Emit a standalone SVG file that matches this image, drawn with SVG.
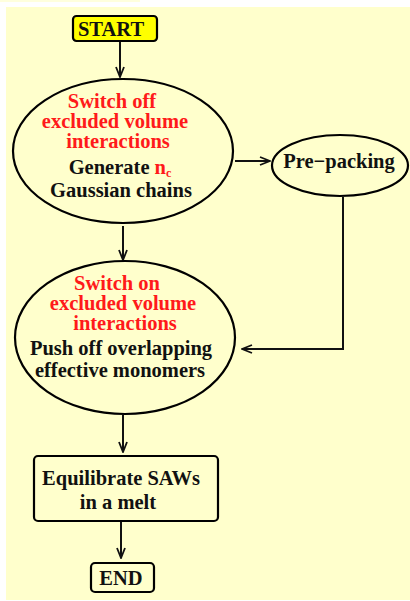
<svg xmlns="http://www.w3.org/2000/svg" width="410" height="601" viewBox="0 0 410 601">
<defs>
<style>
.node{fill:none;stroke:#000;stroke-width:2.2}
.t{font-family:"Liberation Serif","Times New Roman",serif;font-weight:bold;font-size:20.5px;text-anchor:middle;fill:#111}
.r{fill:#ff1a1a}
.conn{fill:none;stroke:#111;stroke-width:2}
</style>
<marker id="ah" viewBox="0 0 12 10" refX="11" refY="5" markerWidth="12" markerHeight="10" markerUnits="userSpaceOnUse" orient="auto">
<path d="M1,1 L11,5 L1,9" fill="none" stroke="#111" stroke-width="1.8"/>
</marker>
</defs>
<rect x="0" y="0" width="410" height="601" fill="#fff"/>
<rect x="0" y="0" width="140" height="2" fill="#ffffdd"/>
<rect x="6" y="7" width="404" height="593" fill="#ffffcc"/>

<g id="connectors">
<line class="conn" x1="120" y1="41" x2="120" y2="77" marker-end="url(#ah)"/>
<line class="conn" x1="235" y1="161" x2="270" y2="161" marker-end="url(#ah)"/>
<line class="conn" x1="123" y1="226" x2="123" y2="260" marker-end="url(#ah)"/>
<polyline class="conn" points="343,197 343,349 242,349" marker-end="url(#ah)"/>
<line class="conn" x1="123" y1="415" x2="123" y2="452" marker-end="url(#ah)"/>
<line class="conn" x1="121" y1="522" x2="121" y2="558" marker-end="url(#ah)"/>
</g>

<g id="start">
<rect x="73" y="16" width="84" height="25" rx="3.5" fill="#ffff00" stroke="#000" stroke-width="2.2"/>
<text class="t" x="111" y="36">START</text>
</g>

<g id="generate">
<ellipse class="node" cx="123" cy="151" rx="110" ry="72"/>
<text class="t r" x="112" y="108">Switch off</text>
<text class="t r" x="115" y="128">excluded volume</text>
<text class="t r" x="118" y="148">interactions</text>
<text class="t" x="120" y="174">Generate <tspan class="r">n<tspan font-size="12px" dy="2.5">c</tspan></tspan></text>
<text class="t" x="121" y="197">Gaussian chains</text>
</g>

<g id="prepacking">
<ellipse class="node" cx="340" cy="165.5" rx="68" ry="30.5"/>
<text class="t" x="339" y="168">Pre−packing</text>
</g>

<g id="pushoff">
<ellipse class="node" cx="125" cy="337.5" rx="110" ry="76.5"/>
<text class="t r" x="117" y="290">Switch on</text>
<text class="t r" x="123" y="310">excluded volume</text>
<text class="t r" x="125" y="330">interactions</text>
<text class="t" x="121" y="355">Push off overlapping</text>
<text class="t" x="120" y="377">effective monomers</text>
</g>

<g id="equilibrate">
<rect x="34" y="456" width="184" height="65" rx="4" class="node"/>
<text class="t" x="121" y="485">Equilibrate SAWs</text>
<text class="t" x="118" y="509">in a melt</text>
</g>

<g id="end">
<rect x="91" y="563" width="63" height="29" rx="4" class="node"/>
<text class="t" x="121" y="585">END</text>
</g>
</svg>
